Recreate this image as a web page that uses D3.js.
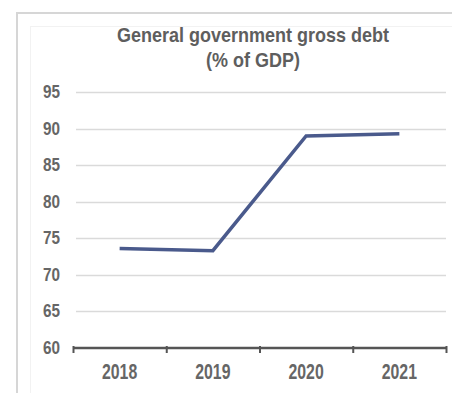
<!DOCTYPE html>
<html>
<head>
<meta charset="utf-8">
<script src="https://cdn.jsdelivr.net/npm/d3@7"></script>
<style>
  html, body { margin: 0; padding: 0; background: #fff; }
  svg { display: block; }
  text { font-family: "Liberation Sans", Arial, sans-serif; }
</style>
</head>
<body>
<div id="chart"></div>
<script>
// General government gross debt, % of GDP
const years = ["2018", "2019", "2020", "2021"];
const debt = [73.6, 73.3, 89.0, 89.3];
const yTicks = [60, 65, 70, 75, 80, 85, 90, 95];
const titleLines = ["General government gross debt", "(% of GDP)"];

const W = 452, H = 393;
const plot = { left: 73, right: 446, top: 92, bottom: 348 };

const svg = d3.select("#chart").append("svg")
  .attr("width", W).attr("height", H);

// outer panel frame
const frame = svg.append("g").attr("stroke", "#d6d6d6").attr("stroke-width", 2).attr("fill", "none");
frame.append("line").attr("x1", 16).attr("x2", W).attr("y1", 13).attr("y2", 13);
frame.append("line").attr("x1", 17).attr("x2", 17).attr("y1", 12).attr("y2", H);
const inner = svg.append("g").attr("stroke", "#f2f2f2").attr("stroke-width", 1).attr("fill", "none");
inner.append("line").attr("x1", 30.5).attr("x2", 30.5).attr("y1", 26).attr("y2", H);
inner.append("line").attr("x1", 30).attr("x2", W).attr("y1", 26.5).attr("y2", 26.5);

const x = d3.scaleBand().domain(years).range([plot.left, plot.right]).padding(0);
const y = d3.scaleLinear().domain([60, 95]).range([plot.bottom, plot.top]);

// title
svg.append("g").selectAll("text").data(titleLines).join("text")
  .attr("transform", (d, i) => `translate(253,${42 + i * 25}) scale(0.9,1)`)
  .attr("text-anchor", "middle")
  .attr("font-size", 20)
  .attr("font-weight", "bold")
  .attr("fill", "#5e5e5e")
  .text(d => d);

// horizontal gridlines
svg.append("g").selectAll("line").data(yTicks.filter(t => t > 60)).join("line")
  .attr("x1", plot.left + 3).attr("x2", plot.right)
  .attr("y1", d => Math.round(y(d)) + 0.5).attr("y2", d => Math.round(y(d)) + 0.5)
  .attr("stroke", "#dadada").attr("stroke-width", 1.5);

// y tick labels
svg.append("g").selectAll("text").data(yTicks).join("text")
  .attr("transform", d => `translate(60,${y(d) + 6}) scale(0.85,1)`)
  .attr("text-anchor", "end")
  .attr("font-size", 18)
  .attr("font-weight", "bold")
  .attr("fill", "#666")
  .text(d => d);

// x axis line with ticks at category boundaries
const axis = d3.axisBottom(d3.scaleLinear().domain([0, years.length]).range([plot.left, plot.right]))
  .ticks(years.length).tickSize(5).tickFormat("");
const gx = svg.append("g").attr("transform", `translate(0,${plot.bottom})`).call(axis);
gx.select(".domain").attr("stroke", "#555").attr("stroke-width", 2.5).attr("d", `M${plot.left},0H${plot.right}`);
gx.selectAll(".tick line").attr("stroke", "#555").attr("stroke-width", 2).attr("y1", -2);

// x tick labels
svg.append("g").selectAll("text").data(years).join("text")
  .attr("transform", d => `translate(${x(d) + x.bandwidth() / 2},379) scale(0.72,1)`)
  .attr("text-anchor", "middle")
  .attr("font-size", 22)
  .attr("font-weight", "bold")
  .attr("fill", "#666")
  .text(d => d);

// debt line
const line = d3.line()
  .x((d, i) => x(years[i]) + x.bandwidth() / 2)
  .y(d => y(d));
svg.append("path").datum(debt)
  .attr("d", line)
  .attr("fill", "none")
  .attr("stroke", "#4a5a8c")
  .attr("stroke-width", 3.5);
</script>
</body>
</html>
